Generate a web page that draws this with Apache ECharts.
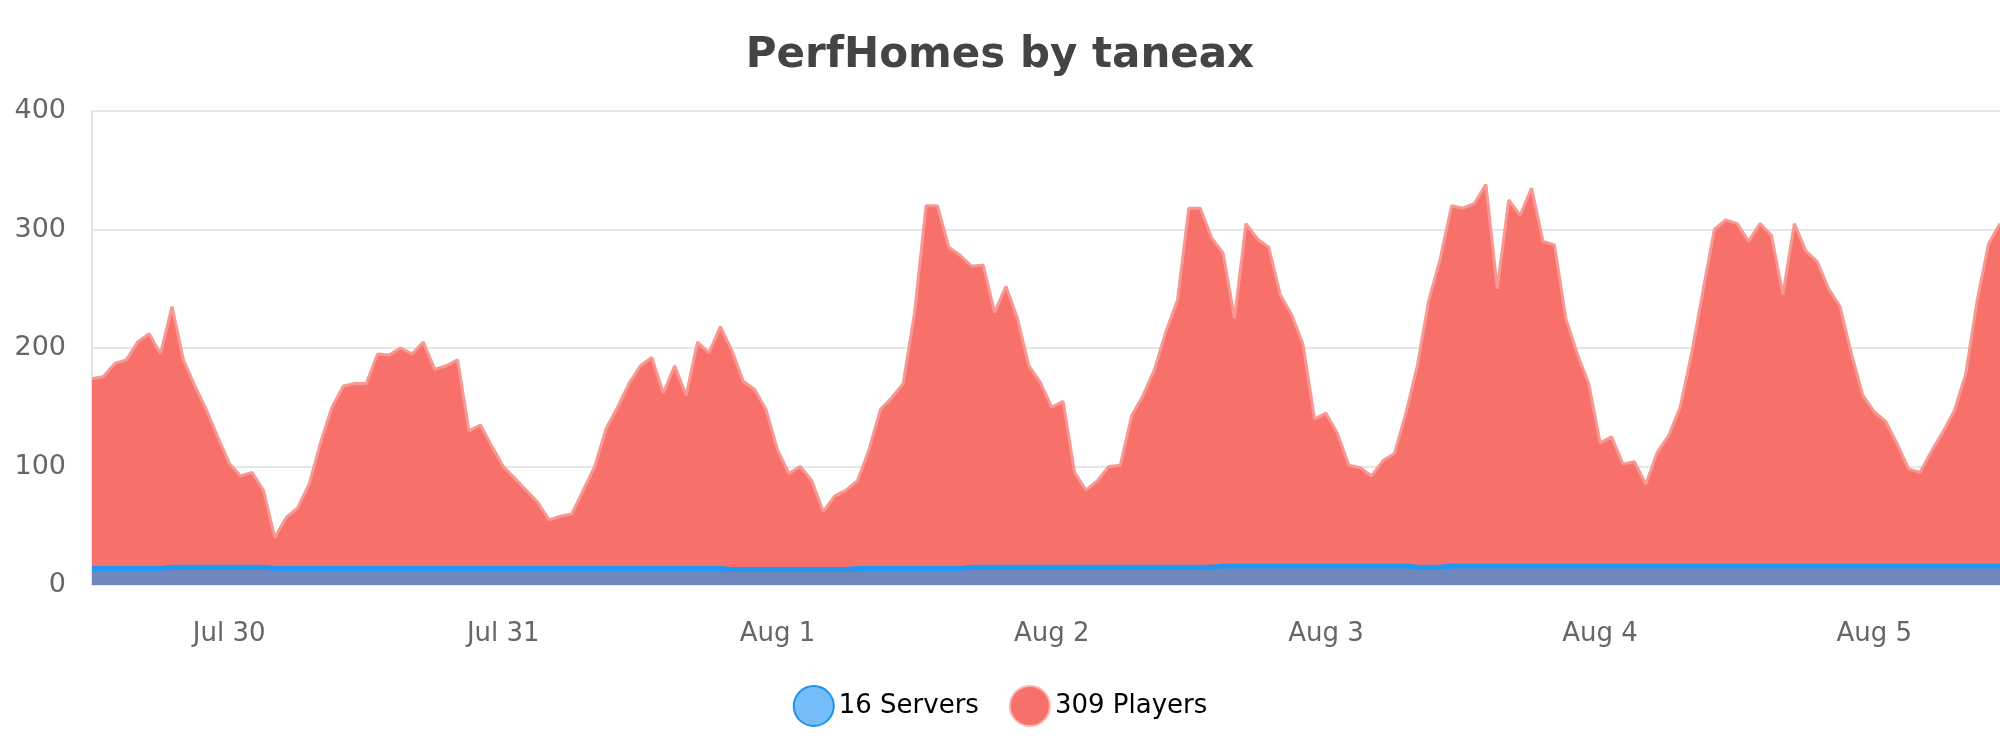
<!DOCTYPE html>
<html><head><meta charset="utf-8">
<script src="https://cdn.jsdelivr.net/npm/echarts@6/dist/echarts.min.js"></script>
<style>html,body{margin:0;padding:0;background:#fff}#c{width:2000px;height:750px}</style>
</head><body><div id="c"></div>
<script>
// hourly samples starting Jul 29 12:00 (hour offset -12 from Jul 30 00:00)
const startOffsetHours = -12;
const players = [
174,176,187,190,205,212,195,235,190,168,148,125,103,
92,95,80,40,57,65,85,120,150,168,170,170,195,194,200,195,205,182,185,190,130,135,117,100,
90,80,70,55,58,60,80,
100,132,150,170,185,192,162,185,160,205,196,218,198,172,165,148,114,
94,100,88,62,75,80,88,114,148,158,170,230,320,320,285,278,269,270,230,252,225,185,171,150,
155,95,80,88,
100,101,143,160,182,214,240,318,318,293,280,225,305,292,285,245,228,203,140,145,
128,101,99,92,105,111,145,185,240,275,320,318,322,338,250,325,312,335,290,287,225,195,170,120,
125,102,104,85,112,126,150,195,248,300,308,305,290,305,295,245,305,
282,273,250,235,195,160,146,138,119,98,95,113,129,147,178,240,288,305
];
const servers = [
14,14,14,14,14,14,14,15,15,15,15,15,15,
15,15,15,14,14,14,14,14,14,14,14,14,14,14,14,14,14,14,14,14,14,14,14,14,
14,14,14,14,14,14,14,14,14,14,14,14,14,14,14,14,14,14,14,13,13,13,13,13,
13,13,13,13,13,13,14,14,14,14,14,14,14,14,14,14,15,15,15,15,15,15,15,15,
15,15,15,15,15,15,15,15,15,15,15,15,15,15,16,16,16,16,16,16,16,16,16,16,16,16,
16,16,16,16,16,15,15,15,16,16,16,16,16,16,16,16,16,16,16,16,16,16,16,16,16,16,
16,16,16,16,16,16,16,16,16,16,16,16,16,16,16,16,16,16,16,16,16,16,16,16,16,16,
16,16,16,16,16,16,16,16,16,16,16,16
];
const seriesNames = ['16 Servers', '309 Players'];
const months = ['Jan','Feb','Mar','Apr','May','Jun','Jul','Aug','Sep','Oct','Nov','Dec'];
const yTicks = [0,100,200,300,400];

const base = new Date(2024, 6, 30, 0, 0, 0).getTime();
const H = 3600000;
const t = i => base + (startOffsetHours + i) * H;
const pData = players.map((v, i) => [t(i), v]);
const sData = servers.slice(0, players.length).map((v, i) => [t(i), v]);

const chart = echarts.init(document.getElementById('c'));
chart.setOption({
  animation: false,
  textStyle: { fontFamily: 'DejaVu Sans' },
  title: { text: 'PerfHomes by taneax', left: 'center', top: 30,
    textStyle: { fontSize: 42, fontWeight: 'bold', color: '#444', fontFamily: 'DejaVu Sans' } },
  legend: { bottom: 18, left: 'center', icon: 'circle', itemWidth: 40, itemHeight: 40, itemGap: 30,
    textStyle: { fontSize: 26, color: '#000' }, data: seriesNames },
  grid: { left: 92, right: 0, top: 111, bottom: 165 },
  xAxis: {
    type: 'time', min: t(0), max: t(players.length - 1),
    minInterval: 86400000, maxInterval: 86400000,
    axisLine: { show: false }, axisTick: { show: false }, splitLine: { show: false },
    axisLabel: { fontSize: 26, color: '#666', margin: 36,
      formatter: v => { const d = new Date(v); return months[d.getMonth()] + ' ' + d.getDate(); } }
  },
  yAxis: {
    type: 'value', min: yTicks[0], max: yTicks[yTicks.length - 1], interval: 100,
    axisLine: { show: true, lineStyle: { color: '#e3e3e3', width: 2 } },
    axisTick: { show: false },
    splitLine: { lineStyle: { color: '#e6e6e6', width: 2 } },
    axisLabel: { fontSize: 27, color: '#666', margin: 26 }
  },
  series: [
    { name: seriesNames[1], type: 'line', data: pData, symbol: 'none', z: 2,
      itemStyle: { color: '#f7716a', borderColor: '#f9b3ae', borderWidth: 3 },
      lineStyle: { color: '#f79892', width: 3 },
      areaStyle: { color: '#f7716a', opacity: 1 } },
    { name: seriesNames[0], type: 'line', data: sData, symbol: 'none', z: 3,
      itemStyle: { color: '#74bdf6', borderColor: '#1f93ec', borderWidth: 4 },
      lineStyle: { color: '#2196f3', width: 5 },
      areaStyle: { color: '#6f87bb', opacity: 1 } }
  ]
});
</script></body></html>
